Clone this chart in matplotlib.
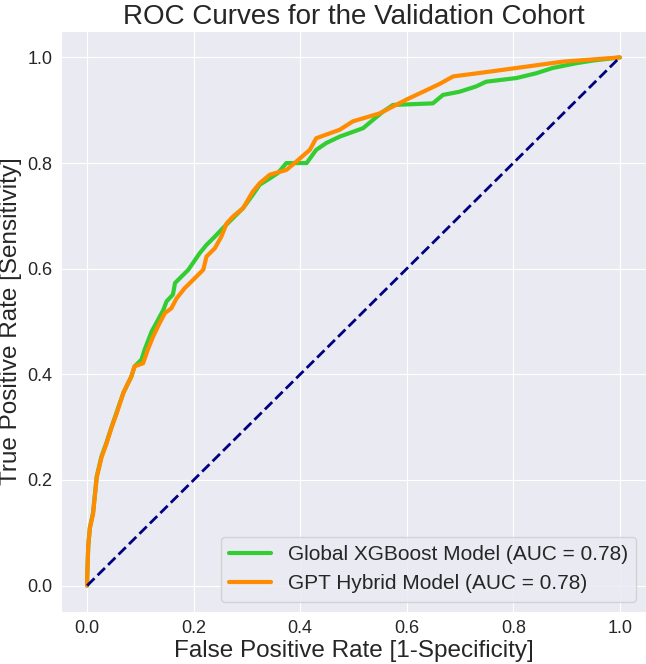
import matplotlib
matplotlib.use("Agg")
import matplotlib.pyplot as plt
import seaborn as sns

# ROC points
xgb_fpr = [0, 0, 0.002, 0.005, 0.011, 0.018, 0.027, 0.036, 0.046, 0.055,
           0.068, 0.083, 0.089, 0.102, 0.108, 0.121, 0.133, 0.143, 0.149, 0.161,
           0.165, 0.180, 0.190, 0.211, 0.224, 0.240, 0.255, 0.274, 0.293, 0.311,
           0.324, 0.343, 0.358, 0.374, 0.412, 0.430, 0.449, 0.474, 0.518, 0.537,
           0.555, 0.574, 0.649, 0.668, 0.699, 0.730, 0.749, 0.806, 0.843, 0.874,
           0.918, 0.949, 1.0]
xgb_tpr = [0, 0.015, 0.074, 0.109, 0.138, 0.207, 0.245, 0.270, 0.301, 0.327,
           0.365, 0.396, 0.415, 0.428, 0.447, 0.481, 0.503, 0.522, 0.538, 0.551,
           0.573, 0.588, 0.598, 0.629, 0.645, 0.661, 0.677, 0.696, 0.715, 0.740,
           0.759, 0.771, 0.781, 0.800, 0.800, 0.825, 0.838, 0.850, 0.866, 0.882,
           0.897, 0.910, 0.913, 0.929, 0.935, 0.945, 0.954, 0.961, 0.970, 0.980,
           0.989, 0.994, 1.0]

gpt_fpr = [0, 0, 0.002, 0.005, 0.011, 0.018, 0.027, 0.036, 0.046, 0.055,
           0.068, 0.083, 0.089, 0.105, 0.114, 0.124, 0.136, 0.146, 0.158, 0.168,
           0.183, 0.193, 0.208, 0.218, 0.224, 0.240, 0.252, 0.262, 0.274, 0.293,
           0.311, 0.324, 0.343, 0.374, 0.386, 0.418, 0.430, 0.474, 0.499, 0.549,
           0.599, 0.637, 0.662, 0.687, 0.755, 0.806, 0.893, 1.0]
gpt_tpr = [0, 0.015, 0.074, 0.109, 0.135, 0.205, 0.243, 0.268, 0.300, 0.325,
           0.365, 0.396, 0.415, 0.421, 0.447, 0.472, 0.497, 0.516, 0.525, 0.544,
           0.563, 0.573, 0.588, 0.598, 0.623, 0.639, 0.661, 0.686, 0.699, 0.715,
           0.746, 0.762, 0.778, 0.787, 0.797, 0.825, 0.847, 0.863, 0.879, 0.894,
           0.920, 0.938, 0.950, 0.964, 0.973, 0.980, 0.992, 1.0]

xgb_auc = 0.78
gpt_auc = 0.78

sns.set_style("darkgrid")
plt.rcParams['font.family'] = ['Liberation Sans', 'DejaVu Sans']

fig = plt.figure(figsize=(6.46, 6.64), dpi=100)
ax = fig.add_axes([0.0937, 0.0783, 0.907, 0.875])

ax.plot(xgb_fpr, xgb_tpr, color='limegreen', lw=3,
        label=f"Global XGBoost Model (AUC = {xgb_auc:.2f})")
ax.plot(gpt_fpr, gpt_tpr, color='darkorange', lw=3,
        label=f"GPT Hybrid Model (AUC = {gpt_auc:.2f})")
ax.plot([0, 1], [0, 1], color='navy', lw=2, linestyle='--')

ax.set_xlim(-0.05, 1.05)
ax.set_ylim(-0.05, 1.05)
ax.set_xticks([0.0, 0.2, 0.4, 0.6, 0.8, 1.0])
ax.set_yticks([0.0, 0.2, 0.4, 0.6, 0.8, 1.0])
ax.tick_params(labelsize=13, pad=2.5)
ax.set_xlabel("False Positive Rate [1-Specificity]", fontsize=17.5, labelpad=2)
ax.set_ylabel("True Positive Rate [Sensitivity]", fontsize=17.5, labelpad=4)
ax.set_title("ROC Curves for the Validation Cohort", fontsize=20, pad=5)
ax.legend(loc='lower right', fontsize=15)

fig.savefig("out.png", dpi=100)
